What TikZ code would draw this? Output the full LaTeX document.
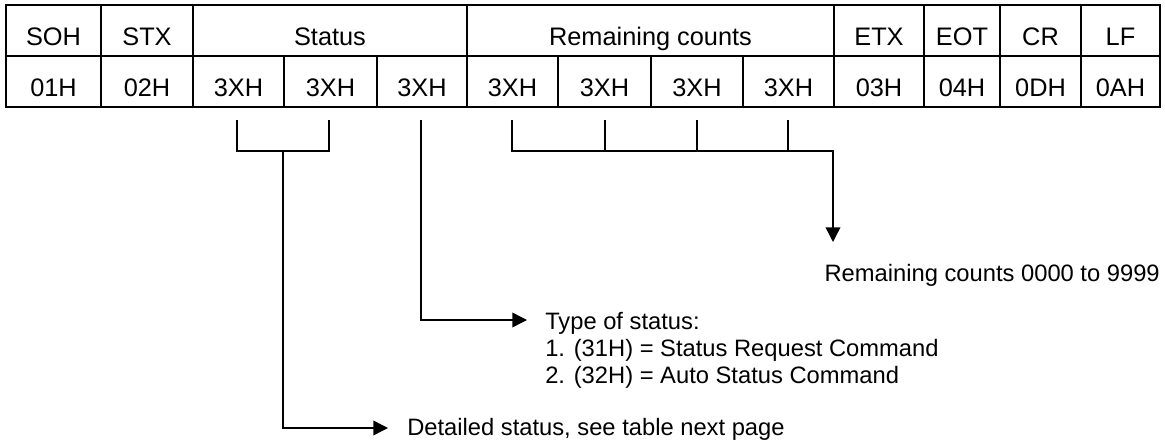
\documentclass[tikz,border=0pt]{standalone}
\usepackage{fontspec}
\setmainfont{Liberation Sans}
\usetikzlibrary{arrows.meta}
\begin{document}
\begin{tikzpicture}[x=0.75pt,y=-0.75pt,
  cell/.style={draw, line width=1.5pt, inner sep=0pt, outer sep=0pt,
    font=\fontsize{19}{23}\selectfont, text height=22.5pt, text depth=0pt,
    minimum height=38.25pt},
  conn/.style={line width=1.1pt},
  arr/.style={conn, -{Triangle[length=11pt,width=11pt]}},
  lbl/.style={inner sep=0pt, font=\fontsize{17.8}{20}\selectfont}]
\useasboundingbox (0,0) rectangle (1165,443);
% row 1
\foreach \n/\a/\b/\t in {soh/6/101/SOH, stx/101/193/STX, status/193/467/Status,
    remain/467/834/Remaining counts, etx/834/924/ETX, eot/924/1000/EOT,
    cr/1000/1081/CR, lf/1081/1160/LF}
  \node[cell, minimum width={(\b-\a)*0.75pt}] (\n) at ({(\a+\b)/2},30.5) {\t};
% row 2
\foreach \n/\a/\b/\t in {v1/6/101/01H, v2/101/193/02H, s1/193/284/3XH, s2/284/377/3XH,
    s3/377/467/3XH, r1/467/558/3XH, r2/558/651/3XH, r3/651/743/3XH, r4/743/834/3XH,
    v3/834/924/03H, v4/924/1000/04H, v5/1000/1081/0DH, v6/1081/1160/0AH}
  \node[cell, minimum width={(\b-\a)*0.75pt}] (\n) at ({(\a+\b)/2},81.5) {\t};
% texts
\node[lbl, anchor=base east] (remtxt) at (1160,281) {Remaining counts 0000 to 9999};
\node[lbl, anchor=base west] (ty1) at (545,329) {Type of status:};
\node[lbl, anchor=base west] (ty2) at (545,356) {1. (31H) = Status Request Command};
\node[lbl, anchor=base west] (ty3) at (545,383) {2. (32H) = Auto Status Command};
\node[lbl, anchor=base west] (det) at (407,435) {Detailed status, see table next page};
% connector coordinates
\coordinate (b1) at (237,120);
\coordinate (b2) at (329,120);
\coordinate (bj) at (283,151);
\coordinate (dt) at (388,428);
\coordinate (s0) at (421,120);
\coordinate (ts) at (527,320);
\coordinate (q1) at (512,120);
\coordinate (q2) at (605,120);
\coordinate (q3) at (697,120);
\coordinate (q4) at (788,120);
\coordinate (rc) at (833,151);
\coordinate (rt) at (833,242);
% connectors
\draw[conn] (b1) |- (bj) -| (b2);
\draw[arr] (bj) |- (dt);
\draw[arr] (s0) |- (ts);
\draw[arr] (q1) |- (rc) -- (rt);
\draw[conn] (q2) -- (q2 |- rc);
\draw[conn] (q3) -- (q3 |- rc);
\draw[conn] (q4) -- (q4 |- rc);
\end{tikzpicture}
\end{document}
